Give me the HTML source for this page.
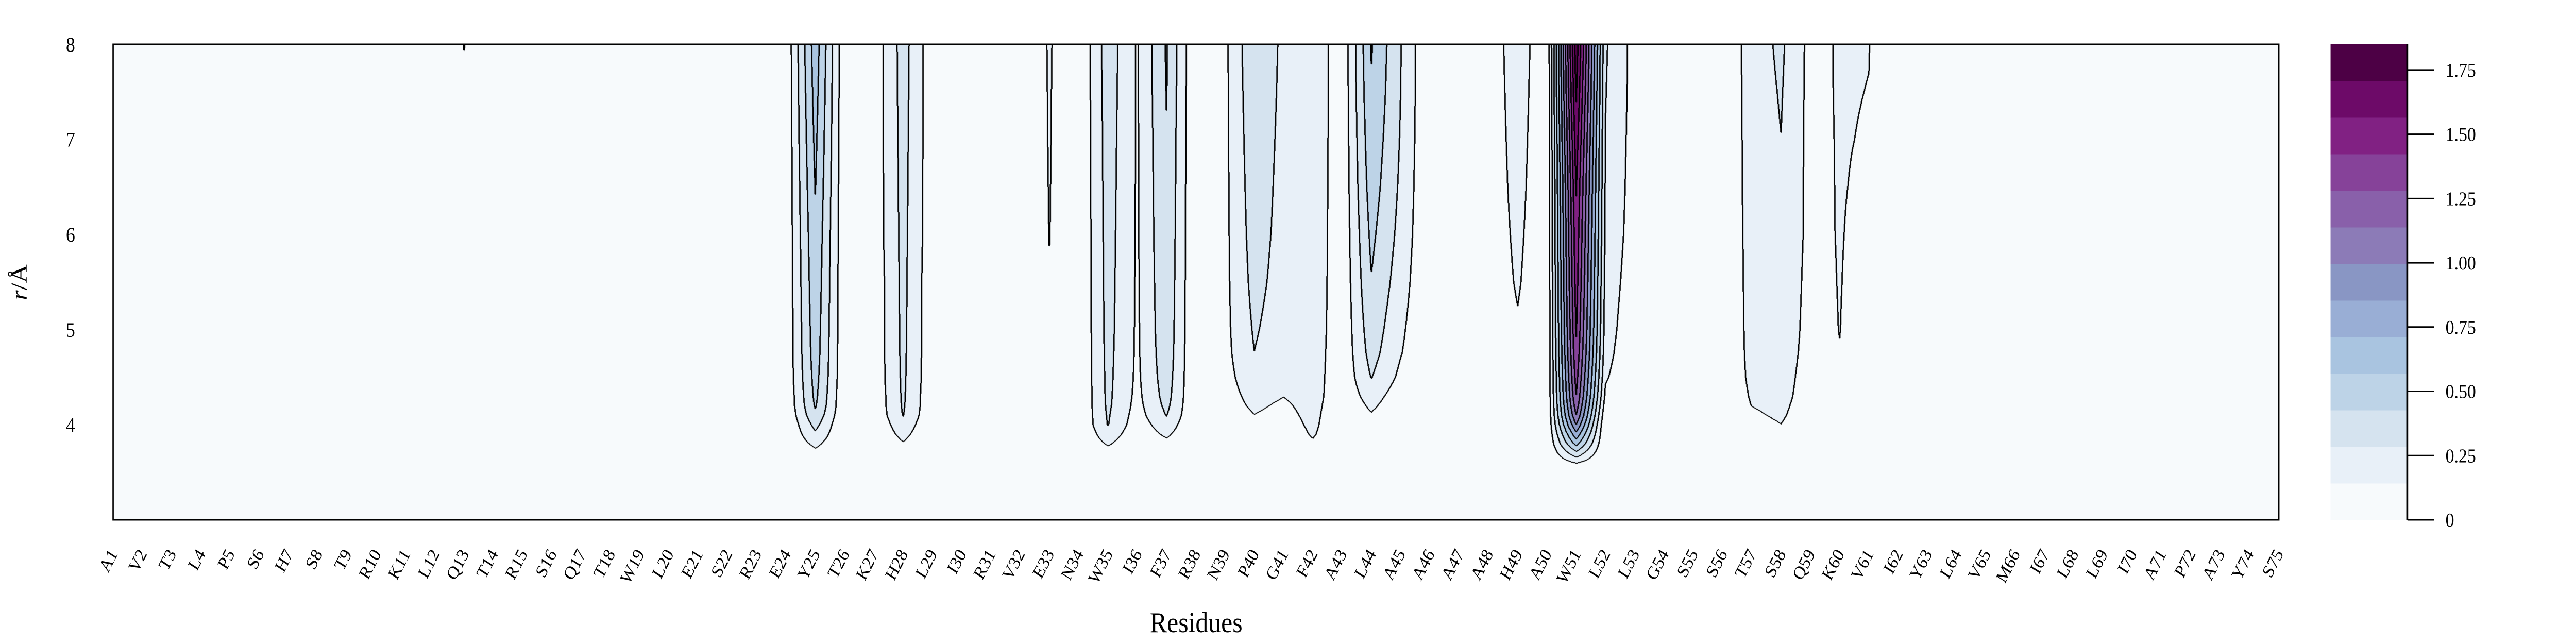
<!DOCTYPE html>
<html><head><meta charset="utf-8"><style>
html,body{margin:0;padding:0;background:#fff;}
#wrap{position:relative;width:5625px;height:1250px;overflow:hidden;background:#fff;transform-origin:0 0;}
#cv{position:absolute;left:247px;top:86px;}
svg{position:absolute;left:0;top:0;}
text{font-family:"Liberation Serif",serif;fill:#000;}
</style></head><body>
<div id="wrap">
<canvas id="cv" width="4729" height="923"></canvas>
<svg id="sv" width="5625" height="1250" viewBox="0 0 5625 1250"></svg>
</div>
<script>
// ---- data ----
const residues = "A1 V2 T3 L4 P5 S6 H7 S8 T9 R10 K11 L12 Q13 T14 R15 S16 Q17 T18 W19 L20 E21 S22 R23 E24 Y25 T26 K27 H28 L29 I30 R31 V32 E33 N34 W35 I36 F37 R38 N39 P40 G41 F42 A43 L44 A45 A46 A47 A48 H49 A50 W51 L52 L53 G54 S55 S56 T57 S58 Q59 K60 V61 I62 Y63 L64 V65 M66 I67 L68 L69 I70 A71 P72 A73 Y74 S75".split(" ");
const rGrid = [3.0,3.5,3.6,3.7,3.8,3.9,4.0,4.1,4.2,4.3,4.5,4.75,5.0,5.5,6.0,6.5,7.0,7.5,8.0];
const densQ13 = [0,0,0,0,0,0,0,0,0,0,0,0,0,0,0,0,0,0.13,0.145];
const densE24 = [0,0,0,0,0,0,0,0.01,0.02,0.02,0.03,0.03,0.03,0.03,0.03,0.03,0.03,0.03,0.03];
const densY25 = [0,0,0.03,0.10,0.18,0.26,0.33,0.40,0.44,0.46,0.48,0.50,0.51,0.53,0.55,0.575,0.60,0.625,0.65];
const densT26 = [0,0,0,0,0,0,0,0.01,0.02,0.02,0.03,0.03,0.03,0.03,0.03,0.03,0.03,0.03,0.03];
const densK27 = [0,0,0,0,0,0,0.01,0.02,0.03,0.03,0.04,0.04,0.04,0.04,0.05,0.05,0.05,0.05,0.05];
const densH28 = [0,0,0,0.06,0.13,0.19,0.24,0.29,0.30,0.305,0.31,0.315,0.318,0.322,0.326,0.33,0.335,0.34,0.345];
const densL29 = [0,0,0,0,0,0,0.01,0.02,0.03,0.03,0.04,0.04,0.04,0.04,0.05,0.05,0.05,0.05,0.05];
const densE33 = [0,0,0,0,0,0,0,0,0,0,0,0.08,0.12,0.138,0.145,0.148,0.151,0.153,0.156];
const densW35 = [0,0,0.02,0.08,0.16,0.23,0.29,0.30,0.31,0.315,0.32,0.325,0.33,0.335,0.34,0.345,0.35,0.356,0.363];
const densI36 = [0,0,0,0,0.02,0.04,0.06,0.08,0.095,0.105,0.115,0.12,0.122,0.125,0.127,0.128,0.129,0.13,0.13];
const densF37 = [0,0,0,0.04,0.10,0.17,0.23,0.29,0.32,0.34,0.36,0.375,0.385,0.395,0.405,0.413,0.42,0.432,0.44];
const densN39 = [0,0,0,0,0,0,0.03,0.05,0.065,0.075,0.09,0.10,0.105,0.107,0.108,0.109,0.11,0.11,0.11];
const densP40 = [0,0,0,0,0.02,0.05,0.10,0.14,0.17,0.195,0.24,0.283,0.30,0.33,0.35,0.365,0.38,0.395,0.41];
const densG41 = [0,0,0,0,0,0.03,0.06,0.09,0.115,0.145,0.18,0.20,0.21,0.225,0.235,0.24,0.245,0.25,0.254];
const densF42 = [0,0,0.02,0.06,0.12,0.16,0.18,0.19,0.20,0.21,0.22,0.23,0.24,0.25,0.255,0.26,0.265,0.268,0.27];
const densA43 = [0,0,0,0,0,0,0,0.01,0.02,0.03,0.03,0.03,0.03,0.03,0.03,0.03,0.03,0.03,0.03];
const densL44 = [0,0,0,0,0.02,0.05,0.09,0.13,0.17,0.21,0.29,0.34,0.37,0.42,0.46,0.50,0.53,0.56,0.58];
const densA45 = [0,0,0,0,0,0,0,0.02,0.04,0.06,0.11,0.15,0.17,0.21,0.24,0.26,0.275,0.285,0.29];
const densA48 = [0,0,0,0,0,0,0,0,0,0,0,0.01,0.02,0.03,0.03,0.03,0.03,0.03,0.03];
const densH49 = [0,0,0,0,0,0,0,0,0,0,0.05,0.09,0.125,0.16,0.18,0.20,0.215,0.23,0.245];
const densW51 = [0,0,0.15,0.38,0.62,0.81,1.0,1.14,1.22,1.28,1.34,1.40,1.44,1.49,1.53,1.58,1.65,1.73,1.80];
const densL52 = [0,0,0,0,0,0,0,0.03,0.07,0.11,0.16,0.20,0.22,0.24,0.26,0.27,0.28,0.29,0.30];
const densL53 = [0,0,0,0,0,0,0,0,0,0,0,0,0.02,0.05,0.07,0.08,0.085,0.09,0.09];
const densT57 = [0,0,0,0,0,0.03,0.08,0.115,0.145,0.16,0.18,0.19,0.195,0.20,0.205,0.21,0.213,0.217,0.22];
const densS58 = [0,0,0,0,0.04,0.10,0.14,0.17,0.19,0.21,0.23,0.245,0.255,0.265,0.273,0.278,0.283,0.295,0.31];
const densQ59 = [0,0,0,0,0,0,0,0.02,0.03,0.04,0.05,0.07,0.08,0.09,0.10,0.10,0.10,0.10,0.10];
const densK60 = [0,0,0,0,0,0,0,0,0,0,0.12,0.138,0.145,0.148,0.15,0.151,0.152,0.154,0.155];
const densV61 = [0,0,0,0,0,0,0,0,0,0,0,0,0.05,0.08,0.10,0.12,0.133,0.14,0.146];
const profiles = {Q13:densQ13,E24:densE24,Y25:densY25,T26:densT26,K27:densK27,H28:densH28,L29:densL29,E33:densE33,W35:densW35,I36:densI36,F37:densF37,N39:densN39,P40:densP40,G41:densG41,F42:densF42,A43:densA43,L44:densL44,A45:densA45,A48:densA48,H49:densH49,W51:densW51,L52:densL52,L53:densL53,T57:densT57,S58:densS58,Q59:densQ59,K60:densK60,V61:densV61};
const levelMax = 1.85;
const nLevels = 13;
const bandColors = ['#f7fafc','#e8f0f8','#d5e3ef','#bdd3e7','#a9c4e0','#99aed5','#8996c4','#8c7bb7','#8960aa','#864299','#812183','#6d0a68','#4d0045'];
const yTicks = [4,5,6,7,8];
const cbTicks = [0,0.25,0.5,0.75,1.0,1.25,1.5,1.75];
const cbTickLabels = ["0","0.25","0.50","0.75","1.00","1.25","1.50","1.75"];

// fit horizontally if the viewport is narrower than the chart
(function(){
  const vw = window.innerWidth || document.documentElement.clientWidth;
  if (vw && vw < 5625) document.getElementById('wrap').style.transform = 'scale(' + (vw/5625) + ',1)';
})();

// ---- geometry ----
const PX=247, PY=86, PW=4729, PH=923;
const rMin=3.0, rMax=8.0;
const xScale = i => PX + i*(PW/(residues.length-1));
const yScale = r => PY + (rMax-r)/(rMax-rMin)*PH;
const CBX=5089, CBW=168, CBY=86, CBH=923;
const cbScale = v => CBY + CBH - v/levelMax*CBH;

// ---- field ----
const nR = rGrid.length, nX = residues.length;
const M = residues.map(n => profiles[n] || new Array(nR).fill(0));
const step = levelMax/nLevels;
const cv = document.getElementById('cv');
const ctx = cv.getContext('2d');
const img = ctx.createImageData(PW, PH);
const lev = new Uint8Array(PW*PH);
const rgb = bandColors.map(c=>[parseInt(c.substr(1,2),16),parseInt(c.substr(3,2),16),parseInt(c.substr(5,2),16)]);
const rowJ = new Int32Array(PH), rowT = new Float32Array(PH);
for (let py=0; py<PH; py++){
  let r = rMax - (py+0.5)/PH*(rMax-rMin);
  r = Math.max(rGrid[0], Math.min(rGrid[nR-1], r));
  let j=0; while(j<nR-2 && rGrid[j+1]<r) j++;
  rowJ[py]=j; rowT[py]=(r-rGrid[j])/(rGrid[j+1]-rGrid[j]);
}
for (let px=0; px<PW; px++){
  const xf = (px+0.5)/PW*(nX-1);
  let i = Math.min(nX-2, Math.floor(xf)); const u = xf-i;
  const A=M[i], B=M[i+1];
  for (let py=0; py<PH; py++){
    const j=rowJ[py], t=rowT[py];
    const a = A[j]+(A[j+1]-A[j])*t, b = B[j]+(B[j+1]-B[j])*t;
    const v = a+(b-a)*u;
    let k = Math.floor(v/step); if(k<0)k=0; if(k>nLevels-1)k=nLevels-1;
    lev[py*PW+px]=k;
  }
}
for (let py=0; py<PH; py++){
  for (let px=0; px<PW; px++){
    const idx=py*PW+px, k=lev[idx];
    let edge=false;
    if (px<PW-1 && lev[idx+1]!==k) edge=true;
    else if (px>0 && lev[idx-1]!==k) edge=true;
    else if (px<PW-2 && lev[idx+2]!==k) edge=true;
    else if (py<PH-1 && lev[idx+PW]!==k) edge=true;
    else if (py>0 && lev[idx-PW]!==k) edge=true;
    const o=idx*4;
    if (edge){img.data[o]=0;img.data[o+1]=0;img.data[o+2]=0;}
    else {img.data[o]=rgb[k][0];img.data[o+1]=rgb[k][1];img.data[o+2]=rgb[k][2];}
    img.data[o+3]=255;
  }
}
ctx.putImageData(img,0,0);

// ---- svg overlay ----
const NS="http://www.w3.org/2000/svg";
const sv=document.getElementById('sv');
function mk(tag, attrs, parent){const e=document.createElementNS(NS,tag);for(const k in attrs)e.setAttribute(k,attrs[k]);(parent||sv).appendChild(e);return e;}

const frame=mk('rect',{x:PX,y:PY,width:PW,height:PH,fill:'none',stroke:'#000','stroke-width':3});



const xg=mk('g',{});


residues.forEach((n,i)=>{
  const ax=xScale(i)+11, ay=1075;
  const t=mk('text',{x:ax,y:ay,'font-size':36,'text-anchor':'end',transform:`rotate(-60 ${ax} ${ay})`},xg);
  t.textContent=n;
  
  
});

const yg=mk('g',{});


yTicks.forEach(v=>{
  const t=mk('text',{x:164,y:yScale(v)+14,'font-size':40,'text-anchor':'end'},yg);
  t.textContent=String(v);
  
  
});

const yt=mk('text',{x:0,y:0,'font-size':50,'text-anchor':'middle',transform:'translate(58 548) rotate(-90)'});
yt.innerHTML='<tspan font-style="italic">r</tspan>/Å';



const xt=mk('text',{x:2612,y:1227,'font-size':56,'text-anchor':'middle'});
xt.textContent='Residues';



// colorbar
const cg=mk('g',{});


bandColors.forEach((c,k)=>{
  const y1=cbScale((k+1)*step), y0=cbScale(k*step);
  const r=mk('rect',{x:CBX,y:y1,width:CBW,height:y0-y1+0.5,fill:c},cg);
  
  
});
const sp=mk('line',{x1:CBX+CBW,y1:CBY,x2:CBX+CBW,y2:CBY+CBH,stroke:'#000','stroke-width':3},cg);


cbTicks.forEach((v,i)=>{
  const y=cbScale(v);
  const l=mk('line',{x1:CBX+CBW,y1:y,x2:CBX+CBW+58,y2:y,stroke:'#000','stroke-width':3},cg);
  
  
  const t=mk('text',{x:5340,y:y+13,'font-size':38},cg);
  t.textContent=cbTickLabels[i];
  
  
});
</script>
</body></html>
